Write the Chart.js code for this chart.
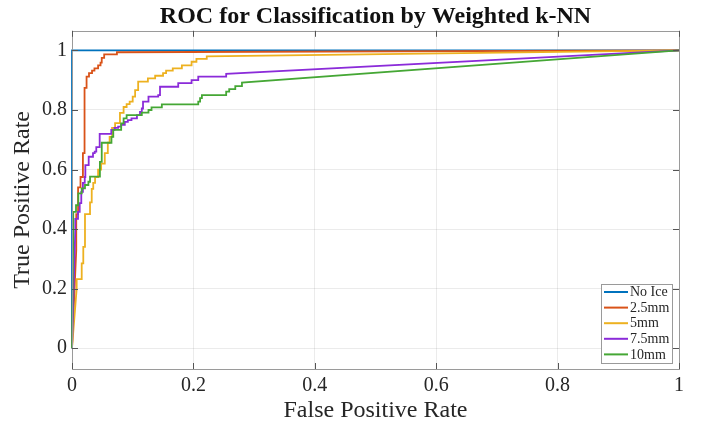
<!DOCTYPE html>
<html>
<head>
<meta charset="utf-8">
<script src="https://cdn.jsdelivr.net/npm/chart.js@4.4.1/dist/chart.umd.min.js"></script>
<style>
html,body{margin:0;padding:0;background:#fff;}
canvas{display:block;}
</style>
</head>
<body>
<canvas id="c" width="704" height="429"></canvas>
<script>
// ---- data ----
const seriesLabels = ['No Ice', '2.5mm', '5mm', '7.5mm', '10mm'];
const seriesColors = ['#0072BD', '#D95319', '#EDB120', '#8B2BD9', '#45A735'];

const fprNoIce = [0, 0, 1];
const tprNoIce = [0, 1, 1];

const fpr25 = [0,0.007,0.007,0.010,0.010,0.014,0.014,0.018,0.018,0.020,0.020,0.021,0.021,0.024,0.024,0.028,0.028,0.033,0.033,0.037,0.037,0.043,0.043,0.047,0.047,0.049,0.049,0.053,0.053,0.074,0.074,1];
const tpr25 = [0,0.33,0.45,0.45,0.54,0.54,0.575,0.575,0.655,0.655,0.81,0.81,0.874,0.874,0.912,0.912,0.924,0.924,0.932,0.932,0.94,0.94,0.95,0.95,0.959,0.959,0.975,0.975,0.987,0.987,0.994,1];

const fpr5 = [0,0.0077,0.0077,0.016,0.016,0.0186,0.0186,0.0214,0.0214,0.0297,0.0297,0.0325,0.0325,0.035,0.035,0.038,0.038,0.043,0.043,0.048,0.048,0.054,0.054,0.059,0.059,0.062,0.062,0.066,0.066,0.071,0.071,0.079,0.079,0.085,0.085,0.090,0.090,0.095,0.095,0.100,0.100,0.104,0.104,0.109,0.109,0.125,0.125,0.137,0.137,0.150,0.150,0.155,0.155,0.166,0.166,0.181,0.181,0.197,0.197,0.205,0.205,0.222,0.222,1];
const tpr5 = [0,0.2,0.232,0.232,0.285,0.285,0.34,0.34,0.45,0.45,0.49,0.49,0.535,0.535,0.555,0.555,0.575,0.575,0.6,0.6,0.62,0.62,0.655,0.655,0.69,0.69,0.71,0.71,0.74,0.74,0.756,0.756,0.79,0.79,0.81,0.81,0.82,0.82,0.828,0.828,0.845,0.845,0.867,0.867,0.895,0.895,0.906,0.906,0.915,0.915,0.924,0.924,0.932,0.932,0.94,0.94,0.95,0.95,0.962,0.962,0.972,0.972,0.98,1];

const fpr75 = [0,0.0054,0.0054,0.0099,0.0099,0.0127,0.0127,0.0153,0.0153,0.018,0.018,0.021,0.021,0.022,0.022,0.0275,0.0275,0.0346,0.0346,0.0374,0.0374,0.040,0.040,0.0456,0.0456,0.0647,0.0647,0.070,0.070,0.076,0.076,0.081,0.081,0.087,0.087,0.092,0.092,0.098,0.098,0.107,0.107,0.112,0.112,0.115,0.115,0.117,0.117,0.126,0.126,0.142,0.142,0.145,0.145,0.175,0.175,0.197,0.197,0.208,0.208,0.254,0.254,1];
const tpr75 = [0,0.40,0.434,0.434,0.458,0.458,0.487,0.487,0.525,0.525,0.555,0.555,0.575,0.575,0.615,0.615,0.643,0.643,0.655,0.655,0.66,0.66,0.675,0.675,0.72,0.72,0.733,0.733,0.74,0.74,0.744,0.744,0.75,0.75,0.76,0.76,0.766,0.766,0.772,0.772,0.783,0.783,0.794,0.794,0.805,0.805,0.828,0.828,0.845,0.845,0.85,0.85,0.878,0.878,0.89,0.89,0.90,0.90,0.912,0.912,0.921,1];

const fpr10 = [0,0.002,0.002,0.0066,0.0066,0.0104,0.0104,0.016,0.016,0.0214,0.0214,0.027,0.027,0.0297,0.0297,0.046,0.046,0.049,0.049,0.065,0.065,0.068,0.068,0.081,0.081,0.085,0.085,0.090,0.090,0.115,0.115,0.126,0.126,0.131,0.131,0.148,0.148,0.208,0.208,0.211,0.211,0.214,0.214,0.254,0.254,0.259,0.259,0.269,0.269,0.280,0.280,1];
const tpr10 = [0,0.374,0.458,0.458,0.48,0.48,0.52,0.52,0.537,0.537,0.548,0.548,0.559,0.559,0.576,0.576,0.626,0.626,0.69,0.69,0.71,0.71,0.733,0.733,0.755,0.755,0.772,0.772,0.783,0.783,0.791,0.791,0.80,0.80,0.809,0.809,0.819,0.819,0.828,0.828,0.84,0.84,0.85,0.85,0.862,0.862,0.87,0.87,0.88,0.88,0.892,1];

const xTickValues = [0, 0.2, 0.4, 0.6, 0.8, 1];
const xTickLabels = ['0', '0.2', '0.4', '0.6', '0.8', '1'];
const yTickValues = [0, 0.2, 0.4, 0.6, 0.8, 1];
const yTickLabels = ['0', '0.2', '0.4', '0.6', '0.8', '1'];

const titleText = 'ROC for Classification by Weighted k-NN';
const xTitle = 'False Positive Rate';
const yTitle = 'True Positive Rate';

// ---- build ----
function pts(xs, ys) { return xs.map((x, i) => ({x: x, y: ys[i]})); }
const allSeries = [
  pts(fprNoIce, tprNoIce), pts(fpr25, tpr25), pts(fpr5, tpr5), pts(fpr75, tpr75), pts(fpr10, tpr10)
];

const SERIF = '"Liberation Serif", "Times New Roman", serif';
const frameColor = '#9a9a9a';

const boxPlugin = {
  id: 'boxPlugin',
  afterDatasetsDraw(chart) {
    const {ctx, chartArea: a, scales} = chart;
    ctx.save();
    ctx.strokeStyle = frameColor;
    ctx.lineWidth = 1;
    ctx.strokeRect(Math.round(a.left) + 0.5, Math.round(a.top) + 0.5, Math.round(a.right - a.left), Math.round(a.bottom - a.top));
    // inward tick marks
    ctx.strokeStyle = '#555';
    const tl = 6;
    ctx.beginPath();
    xTickValues.forEach(v => {
      const px = Math.round(scales.x.getPixelForValue(v)) + 0.5;
      ctx.moveTo(px, a.bottom); ctx.lineTo(px, a.bottom - tl);
      ctx.moveTo(px, a.top); ctx.lineTo(px, a.top + tl);
    });
    yTickValues.forEach(v => {
      const py = Math.round(scales.y.getPixelForValue(v)) + 0.5;
      ctx.moveTo(a.left, py); ctx.lineTo(a.left + tl, py);
      ctx.moveTo(a.right, py); ctx.lineTo(a.right - tl, py);
    });
    ctx.stroke();
    ctx.restore();
  },
  afterDraw(chart) {
    const {ctx, chartArea: a} = chart;
    const w = 71, rowH = 15.6, h = 79;
    const right = a.right - 7, bottom = a.bottom - 6;
    const left = right - w, top = bottom - h;
    ctx.save();
    ctx.fillStyle = '#fff';
    ctx.fillRect(left, top, w, h);
    ctx.strokeStyle = frameColor;
    ctx.lineWidth = 1;
    ctx.strokeRect(Math.round(left) + 0.5, Math.round(top) + 0.5, w, h);
    ctx.font = '14px ' + SERIF;
    ctx.textBaseline = 'middle';
    ctx.textAlign = 'left';
    chart.data.datasets.forEach((ds, i) => {
      const y = top + 8 + i * rowH;
      ctx.strokeStyle = ds.borderColor;
      ctx.lineWidth = 2;
      ctx.beginPath();
      ctx.moveTo(left + 3, y); ctx.lineTo(left + 27, y);
      ctx.stroke();
      ctx.fillStyle = '#262626';
      ctx.fillText(ds.label, left + 29, y + 0.5);
    });
    ctx.restore();
  }
};

const datasets = allSeries.map((d, i) => ({
  label: seriesLabels[i],
  data: d,
  borderColor: seriesColors[i],
  backgroundColor: seriesColors[i],
  borderWidth: 1.8,
  pointRadius: 0,
  tension: 0,
  fill: false,
  clip: 4,
  order: seriesLabels.length - i
}));

new Chart(document.getElementById('c'), {
  type: 'line',
  data: { datasets: datasets },
  plugins: [boxPlugin],
  options: {
    responsive: false,
    animation: false,
    devicePixelRatio: 1,
    layout: { padding: { left: 0, right: 25, top: 0, bottom: 0 } },
    plugins: {
      legend: { display: false },
      tooltip: { enabled: false },
      title: {
        display: true,
        text: titleText,
        fullSize: false,
        color: '#111',
        font: { family: SERIF, size: 24, weight: 'bold', lineHeight: 1.2 },
        padding: { top: 2, bottom: 0 }
      }
    },
    scales: {
      x: {
        type: 'linear',
        min: 0, max: 1,
        afterBuildTicks: s => { s.ticks = xTickValues.map(v => ({value: v})); },
        afterFit: s => { s.height = 60; },
        grid: { color: 'rgba(0,0,0,0.08)', drawTicks: false, lineWidth: 1 },
        border: { display: false },
        ticks: {
          padding: 5,
          color: '#262626',
          font: { family: SERIF, size: 20 },
          maxRotation: 0,
          callback: (v) => { const k = xTickValues.indexOf(v); return k >= 0 ? xTickLabels[k] : ''; }
        },
        title: {
          display: true, text: xTitle, color: '#262626',
          font: { family: SERIF, size: 24, lineHeight: 1.2 },
          padding: { top: 0, bottom: 4 }
        }
      },
      y: {
        type: 'linear',
        min: -0.07, max: 1.066,
        afterBuildTicks: s => { s.ticks = yTickValues.map(v => ({value: v})); },
        afterFit: s => { s.width = 72; },
        grid: { color: 'rgba(0,0,0,0.08)', drawTicks: false, lineWidth: 1 },
        border: { display: false },
        ticks: {
          padding: 5,
          color: '#262626',
          font: { family: SERIF, size: 20 },
          callback: (v) => { const k = yTickValues.indexOf(v); return k >= 0 ? yTickLabels[k] : ''; }
        },
        title: {
          display: true, text: yTitle, color: '#262626',
          font: { family: SERIF, size: 24, lineHeight: 1.2 },
          padding: { top: 8, bottom: 0 }
        }
      }
    }
  }
});
</script>
</body>
</html>
